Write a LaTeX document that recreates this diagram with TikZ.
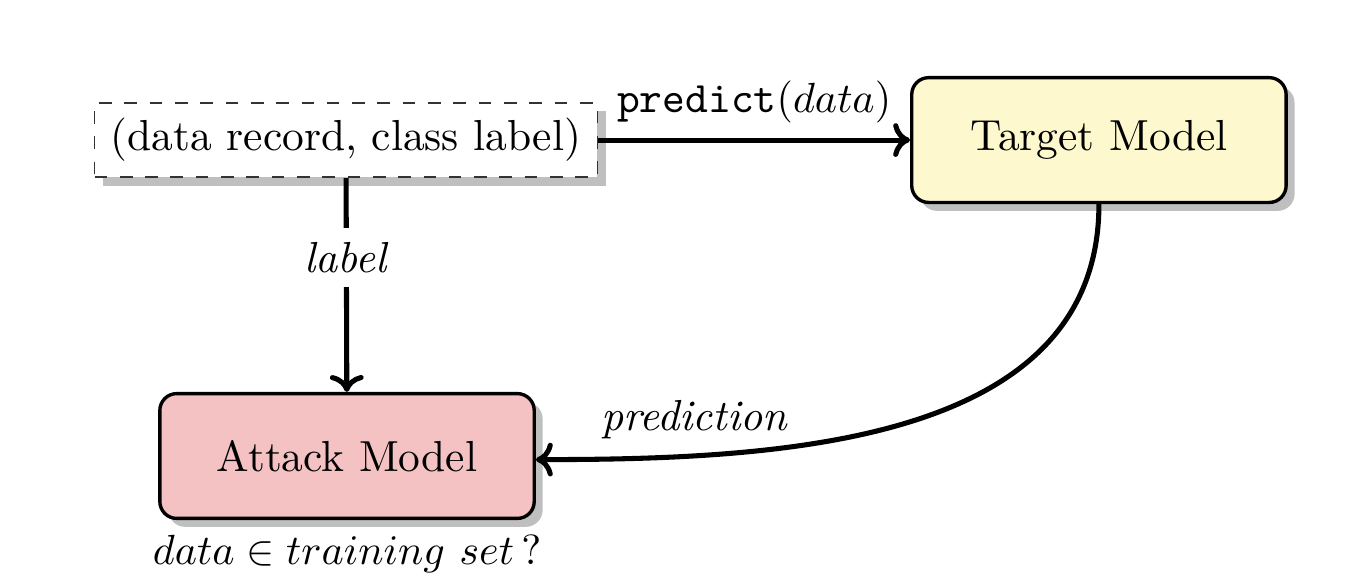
\documentclass[tikz,border=0pt]{standalone}
\usepackage{amsmath}
\usepackage{tikz}
\usetikzlibrary{positioning, arrows.meta, shadows}

\definecolor{targetfill}{HTML}{FDF8CE}
\definecolor{attackfill}{HTML}{F4C2C3}

\begin{document}
\begin{tikzpicture}[
        every node/.style={font=\fontsize{10.3pt}{12.4pt}\selectfont},
        model/.style={rectangle, rounded corners=4pt, draw=black, thick, minimum width=3.12cm, minimum height=1.04cm,
            drop shadow={shadow xshift=2pt, shadow yshift=-2pt, fill=black!25, opacity=1}},
        record/.style={rectangle, draw=black!80, dashed, fill=white, minimum width=4.19cm, minimum height=0.62cm,
            drop shadow={shadow xshift=2pt, shadow yshift=-2pt, fill=black!25, opacity=1}},
        flow/.style={-{To[length=4pt, width=8pt]}, very thick},
    ]
    \useasboundingbox (0,0) rectangle (11.217,-4.833);

    % Nodes
    \node[record] (rec) at (2.883,-1.167) {(data record, class label)};
    \node[model, fill=targetfill] (target) at (9.158,-1.167) {Target Model};
    \node[model, fill=attackfill] (attack) at (2.892,-3.8) {Attack Model};
    \node[below=0cm of attack] (question) {$data \in training\ set\,?$};

    % Connectors
    \draw[flow] (rec) -- node[above] {$\texttt{predict}(data)$} (target);
    \draw[flow] (rec) -- node[pos=0.37, fill=white] {\textit{label}} (attack);
    \draw[flow] (target.south) to[out=-90, in=0] node[pos=0.79, above] {\textit{prediction}} ([yshift=-0.03cm]attack.east);
\end{tikzpicture}
\end{document}
